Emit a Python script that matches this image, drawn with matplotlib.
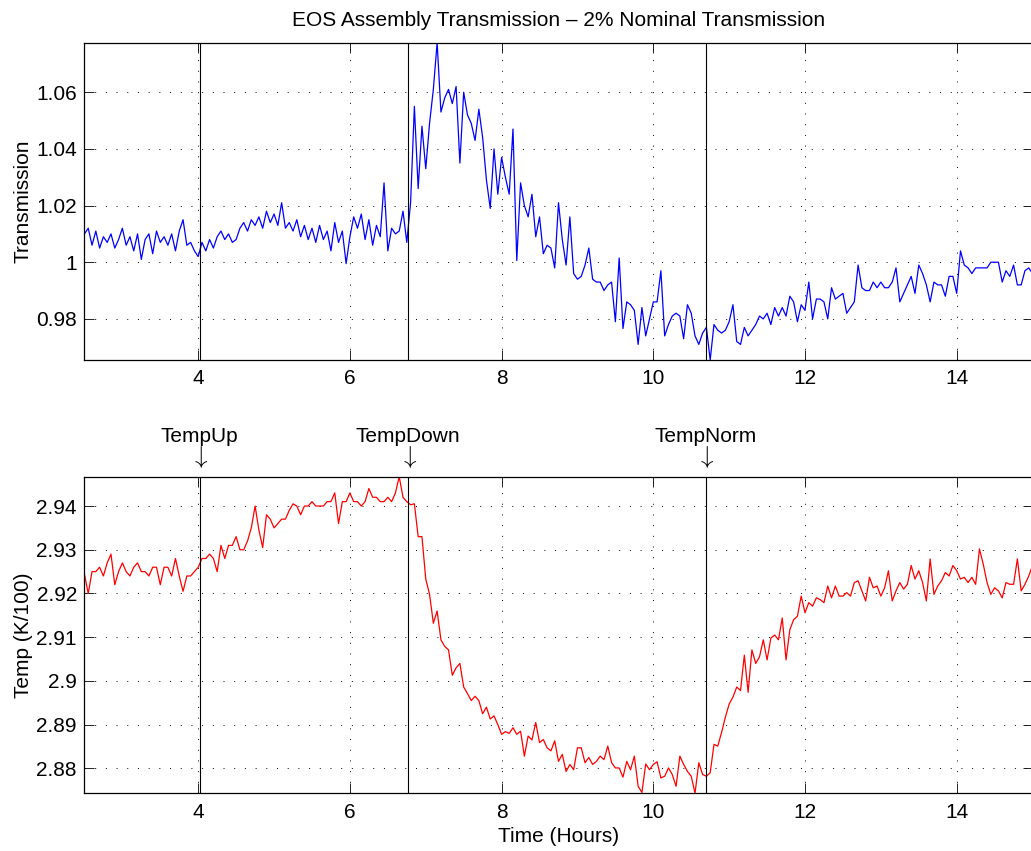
import numpy as np
import matplotlib
matplotlib.use("Agg")
import matplotlib.pyplot as plt
from matplotlib.ticker import FuncFormatter

plt.rcParams["font.family"] = ["Liberation Sans", "DejaVu Sans"]
plt.rcParams["mathtext.fontset"] = "cm"

# ---------------------------------------------------------------------------
# Data (read off the reference, sampled every 0.05 h from 2.5 h to 15 h)
# ---------------------------------------------------------------------------
T_START = 2.5
T_STEP = 0.05

transmission = [
    1.010, 1.012, 1.006, 1.011, 1.005, 1.009, 1.007, 1.010, 1.005, 1.008,
    1.012, 1.006, 1.009, 1.004, 1.010, 1.001, 1.008, 1.010, 1.003, 1.011,
    1.007, 1.009, 1.006, 1.010, 1.004, 1.011, 1.015, 1.006, 1.007, 1.004,
    1.002, 1.007, 1.004, 1.008, 1.005, 1.009, 1.011, 1.008, 1.010, 1.007,
    1.008, 1.012, 1.014, 1.011, 1.015, 1.013, 1.016, 1.012, 1.018, 1.014,
    1.017, 1.013, 1.021, 1.012, 1.014, 1.011, 1.015, 1.009, 1.013, 1.008,
    1.012, 1.007, 1.013, 1.008, 1.011, 1.004, 1.014, 1.007, 1.011, 0.9995,
    1.009, 1.016, 1.012, 1.017, 1.008, 1.015, 1.006, 1.013, 1.009, 1.028,
    1.004, 1.012, 1.010, 1.011, 1.018, 1.007, 1.021, 1.055, 1.026, 1.048,
    1.033, 1.049, 1.061, 1.0775, 1.053, 1.058, 1.061, 1.056, 1.062, 1.035,
    1.060, 1.052, 1.049, 1.043, 1.054, 1.044, 1.029, 1.019, 1.040, 1.024,
    1.037, 1.030, 1.024, 1.047, 1.0006, 1.028, 1.020, 1.016, 1.024, 1.009,
    1.016, 1.003, 1.006, 1.005, 0.998, 1.021, 1.008, 0.999, 1.016, 0.996,
    0.994, 0.995, 0.999, 1.005, 0.994, 0.993, 0.993, 0.990, 0.992, 0.993,
    0.979, 1.0015, 0.9766, 0.986, 0.985, 0.983, 0.971, 0.984, 0.974, 0.980,
    0.986, 0.986, 0.997, 0.974, 0.978, 0.981, 0.982, 0.981, 0.973, 0.985,
    0.982, 0.974, 0.971, 0.975, 0.977, 0.9655, 0.978, 0.976, 0.975, 0.976,
    0.979, 0.985, 0.972, 0.971, 0.977, 0.974, 0.976, 0.978, 0.981, 0.980,
    0.982, 0.978, 0.984, 0.981, 0.984, 0.981, 0.988, 0.986, 0.979, 0.985,
    0.983, 0.993, 0.980, 0.987, 0.987, 0.986, 0.980, 0.991, 0.987, 0.988,
    0.989, 0.982, 0.984, 0.986, 0.999, 0.991, 0.990, 0.990, 0.993, 0.991,
    0.993, 0.991, 0.991, 0.993, 0.998, 0.986, 0.989, 0.992, 0.995, 0.989,
    0.999, 0.996, 0.992, 0.986, 0.993, 0.992, 0.992, 0.988, 0.995, 0.995,
    0.989, 1.004, 0.999, 0.998, 0.996, 0.998, 0.998, 0.998, 0.998, 1.000,
    1.000, 1.000, 0.993, 0.997, 0.995, 0.999, 0.992, 0.992, 0.997, 0.998,
    0.996,
]

temperature = [
    2.9244, 2.9200, 2.9250, 2.9250, 2.9260, 2.9240, 2.9270, 2.9290, 2.9220, 2.9250,
    2.9270, 2.9250, 2.9240, 2.9260, 2.9270, 2.9250, 2.9250, 2.9240, 2.9260, 2.9260,
    2.9220, 2.9260, 2.9260, 2.9240, 2.9280, 2.9240, 2.9205, 2.9240, 2.9240, 2.9250,
    2.9260, 2.9280, 2.9280, 2.9290, 2.9280, 2.9250, 2.9310, 2.9280, 2.9310, 2.9310,
    2.9330, 2.9300, 2.9300, 2.9320, 2.9350, 2.9400, 2.9345, 2.9305, 2.9380, 2.9370,
    2.9350, 2.9360, 2.9370, 2.9370, 2.9390, 2.9405, 2.9400, 2.9380, 2.9400, 2.9400,
    2.9410, 2.9400, 2.9400, 2.9400, 2.9410, 2.9410, 2.9430, 2.9360, 2.9410, 2.9410,
    2.9430, 2.9410, 2.9410, 2.9400, 2.9410, 2.9440, 2.9420, 2.9420, 2.9410, 2.9410,
    2.9420, 2.9410, 2.9430, 2.9467, 2.9420, 2.9410, 2.9403, 2.9405, 2.9330, 2.9330,
    2.9233, 2.9198, 2.9132, 2.9160, 2.9094, 2.9079, 2.9071, 2.9013, 2.9030, 2.9040,
    2.8986, 2.8971, 2.8955, 2.8965, 2.8955, 2.8925, 2.8940, 2.8913, 2.8920, 2.8900,
    2.8878, 2.8884, 2.8880, 2.8893, 2.8878, 2.8885, 2.8828, 2.8874, 2.8865, 2.8905,
    2.8859, 2.8866, 2.8847, 2.8840, 2.8863, 2.8816, 2.8832, 2.8793, 2.8809, 2.8797,
    2.8847, 2.8847, 2.8813, 2.8825, 2.8809, 2.8816, 2.8828, 2.8820, 2.8851, 2.8813,
    2.8801, 2.8801, 2.8780, 2.8816, 2.8797, 2.8828, 2.8759, 2.8745, 2.8810, 2.8797,
    2.8809, 2.8815, 2.8778, 2.8782, 2.8801, 2.8786, 2.8759, 2.8828, 2.8809, 2.8793,
    2.8782, 2.8743, 2.8813, 2.8786, 2.8782, 2.8790, 2.8855, 2.8851, 2.8882, 2.8917,
    2.8947, 2.8963, 2.8986, 2.8978, 2.9059, 2.8974, 2.9071, 2.9040, 2.9055, 2.9094,
    2.9048, 2.9098, 2.9105, 2.9094, 2.9144, 2.9048, 2.9117, 2.9140, 2.9148, 2.9194,
    2.9156, 2.9179, 2.9171, 2.9190, 2.9186, 2.9179, 2.9217, 2.9190, 2.9217, 2.9194,
    2.9194, 2.9202, 2.9194, 2.9225, 2.9229, 2.9206, 2.9183, 2.9237, 2.9213, 2.9217,
    2.9194, 2.9213, 2.9252, 2.9183, 2.9206, 2.9225, 2.9210, 2.9221, 2.9264, 2.9233,
    2.9252, 2.9225, 2.9183, 2.9279, 2.9198, 2.9217, 2.9229, 2.9248, 2.9240, 2.9264,
    2.9252, 2.9233, 2.9237, 2.9225, 2.9237, 2.9221, 2.9302, 2.9267, 2.9225, 2.9198,
    2.9213, 2.9206, 2.9190, 2.9225, 2.9221, 2.9221, 2.9279, 2.9206, 2.9221, 2.9240,
    2.9264,
]

event_times = [4.02, 6.77, 10.69]
event_labels = ["TempUp", "TempDown", "TempNorm"]

x_ticks = [4, 6, 8, 10, 12, 14]
trans_ticks = [0.98, 1.00, 1.02, 1.04, 1.06]
temp_ticks = [2.88, 2.89, 2.90, 2.91, 2.92, 2.93, 2.94]

TITLE = "EOS Assembly Transmission \u2013 2% Nominal Transmission"
FONT_SIZE = 15


def _style_axes(ax, t, yvals, yticks):
    ax.set_xlim(t[0], t[-1])
    ax.set_ylim(min(yvals), max(yvals))
    ax.set_xticks(x_ticks)
    ax.set_yticks(yticks)
    ax.yaxis.set_major_formatter(FuncFormatter(lambda v, _: f"{v:g}"))
    ax.tick_params(direction="in", length=7, width=0.6, top=True, right=True,
                   labelsize=FONT_SIZE)
    ax.tick_params(axis="y", pad=5.4)
    ax.tick_params(axis="x", pad=6.8)
    ax.grid(True, color="black", linestyle=(0, (1, 10)), linewidth=0.7)
    for spine in ax.spines.values():
        spine.set_linewidth(0.9)
    for tx in event_times:
        ax.axvline(tx, color="black", linewidth=0.8)


fig = plt.figure(figsize=(10.31, 8.51), dpi=100)
ax_top = fig.add_axes([0.0819, 0.5770, 0.9196, 0.3729])
ax_bot = fig.add_axes([0.0819, 0.0678, 0.9196, 0.3720])

t = T_START + T_STEP * np.arange(len(transmission))

ax_top.plot(t, transmission, color="#0000ff", linewidth=0.9)
_style_axes(ax_top, t, transmission, trans_ticks)
ax_top.set_ylabel("Transmission", fontsize=FONT_SIZE)
ax_top.yaxis.set_label_coords(-0.0545, 0.5)
ax_top.set_title(TITLE, fontsize=FONT_SIZE, pad=12)

ax_bot.plot(t, temperature, color="#ff0000", linewidth=0.9)
_style_axes(ax_bot, t, temperature, temp_ticks)
ax_bot.set_ylabel("Temp (K/100)", fontsize=FONT_SIZE)
ax_bot.yaxis.set_label_coords(-0.0545, 0.5)
ax_bot.set_xlabel("Time (Hours)", fontsize=FONT_SIZE)
ax_bot.xaxis.set_label_coords(0.5, -0.106)

# event markers above the temperature panel
trans = ax_bot.get_xaxis_transform()
for tx, label in zip(event_times, event_labels):
    ax_bot.text(tx, 1.1106, label, transform=trans, ha="center",
                va="baseline", fontsize=FONT_SIZE, clip_on=False)
    ax_bot.text(tx, 1.0613, r"$\downarrow$", transform=trans, ha="center",
                va="center", fontsize=18, clip_on=False)

fig.savefig("out.png", dpi=100)
